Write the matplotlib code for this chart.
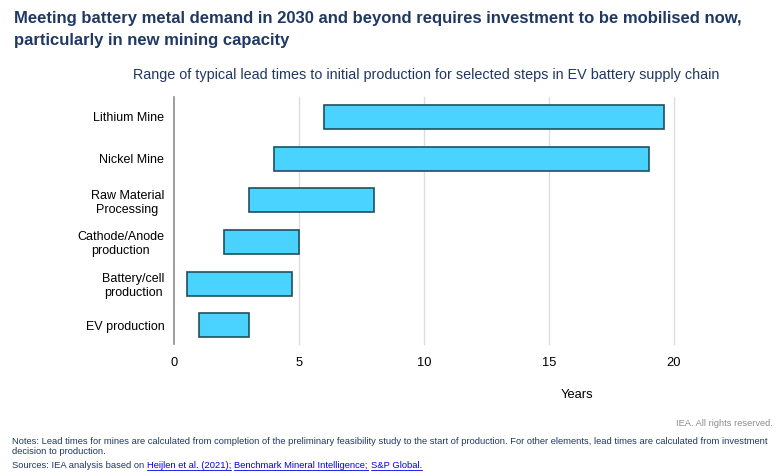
import numpy as np
import matplotlib
matplotlib.use("Agg")
import matplotlib.pyplot as plt
from matplotlib.lines import Line2D

plt.rcParams['font.family'] = ['Liberation Sans', 'DejaVu Sans']

# 数据
steps = ["Lithium Mine", "Nickel Mine", "Raw Material\nProcessing",
         "Cathode/Anode\nproduction", "Battery/cell\nproduction", "EV production"]
start_years = [6.0, 4.0, 3.0, 2.0, 0.5, 1.0]
end_years = [19.6, 19.0, 8.0, 5.0, 4.7, 3.0]
x_ticks = [0, 5, 10, 15, 20]

navy = "#1F3864"
bar_color = "#4AD3FF"
edge_color = "#1F4F5F"

fig = plt.figure(figsize=(7.8, 4.76), dpi=100)
ax = fig.add_axes([174 / 780, 1 - 344 / 476, 500 / 780, 247 / 476])

y = np.arange(len(steps))
widths = np.array(end_years) - np.array(start_years)
ax.barh(y, widths, left=start_years, height=0.58, color=bar_color,
        edgecolor=edge_color, linewidth=1.2, zorder=3)

ax.set_xlim(0, 20)
ax.set_ylim(5.45, -0.48)
ax.set_xticks(x_ticks)
ax.set_xticklabels([str(t) for t in x_ticks], fontsize=9.3)
ax.set_yticks(y)
ax.set_yticklabels(steps, fontsize=9, multialignment="center")
ax.tick_params(axis="both", length=0)
ax.tick_params(axis="x", pad=9)
ax.tick_params(axis="y", pad=7)

for t in x_ticks[1:]:
    ax.axvline(t, color="#DDDDDD", linewidth=1, zorder=1, clip_on=False)

for s in ["top", "right", "bottom"]:
    ax.spines[s].set_visible(False)
ax.spines["left"].set_color("#8C8C8C")
ax.spines["left"].set_linewidth(1.2)

# 标题
title_kw = dict(fontsize=12, fontweight="bold", color=navy)
fig.text(14 / 780, 1 - 18 / 476, "Meeting battery metal demand in 2030 and beyond requires investment to be mobilised now,",
         va="center", **title_kw)
fig.text(14 / 780, 1 - 40 / 476, "particularly in new mining capacity",
         va="center", **title_kw)

fig.text(426 / 780, 1 - 75 / 476,
         "Range of typical lead times to initial production for selected steps in EV battery supply chain",
         ha="center", va="center", fontsize=10.4, color=navy)

fig.text(577 / 780, 1 - 395 / 476, "Years", ha="center", va="center", fontsize=9.3)

fig.text(773 / 780, 1 - 424 / 476, "IEA. All rights reserved.", ha="right",
         va="center", fontsize=6.7, color="#8C8C8C")

note_kw = dict(fontsize=6.75, color=navy, va="center")
fig.text(12 / 780, 1 - 441 / 476,
         "Notes: Lead times for mines are calculated from completion of the preliminary feasibility study to the start of production. For other elements, lead times are calculated from investment",
         **note_kw)
fig.text(12 / 780, 1 - 452 / 476, "decision to production.", **note_kw)

# 来源（带下划线链接）
fig.canvas.draw()
renderer = fig.canvas.get_renderer()
x_px = 12
y_src = 1 - 465 / 476
parts = [("Sources: IEA analysis based on ", False),
         ("Heijlen et al. (2021);", True), (" ", False),
         ("Benchmark Mineral Intelligence;", True), (" ", False),
         ("S&P Global.", True)]
for txt, link in parts:
    t = fig.text(x_px / 780, y_src, txt, fontsize=6.75,
                 color="#0000EE" if link else navy, va="center")
    bb = t.get_window_extent(renderer)
    if link:
        yy = bb.y0 / fig.bbox.height
        fig.add_artist(Line2D([bb.x0 / fig.bbox.width, bb.x1 / fig.bbox.width],
                              [yy, yy], color="#0000EE", linewidth=0.6))
    x_px += bb.width if txt.strip() else 3

fig.savefig("out.png", dpi=100)
plt.close()
